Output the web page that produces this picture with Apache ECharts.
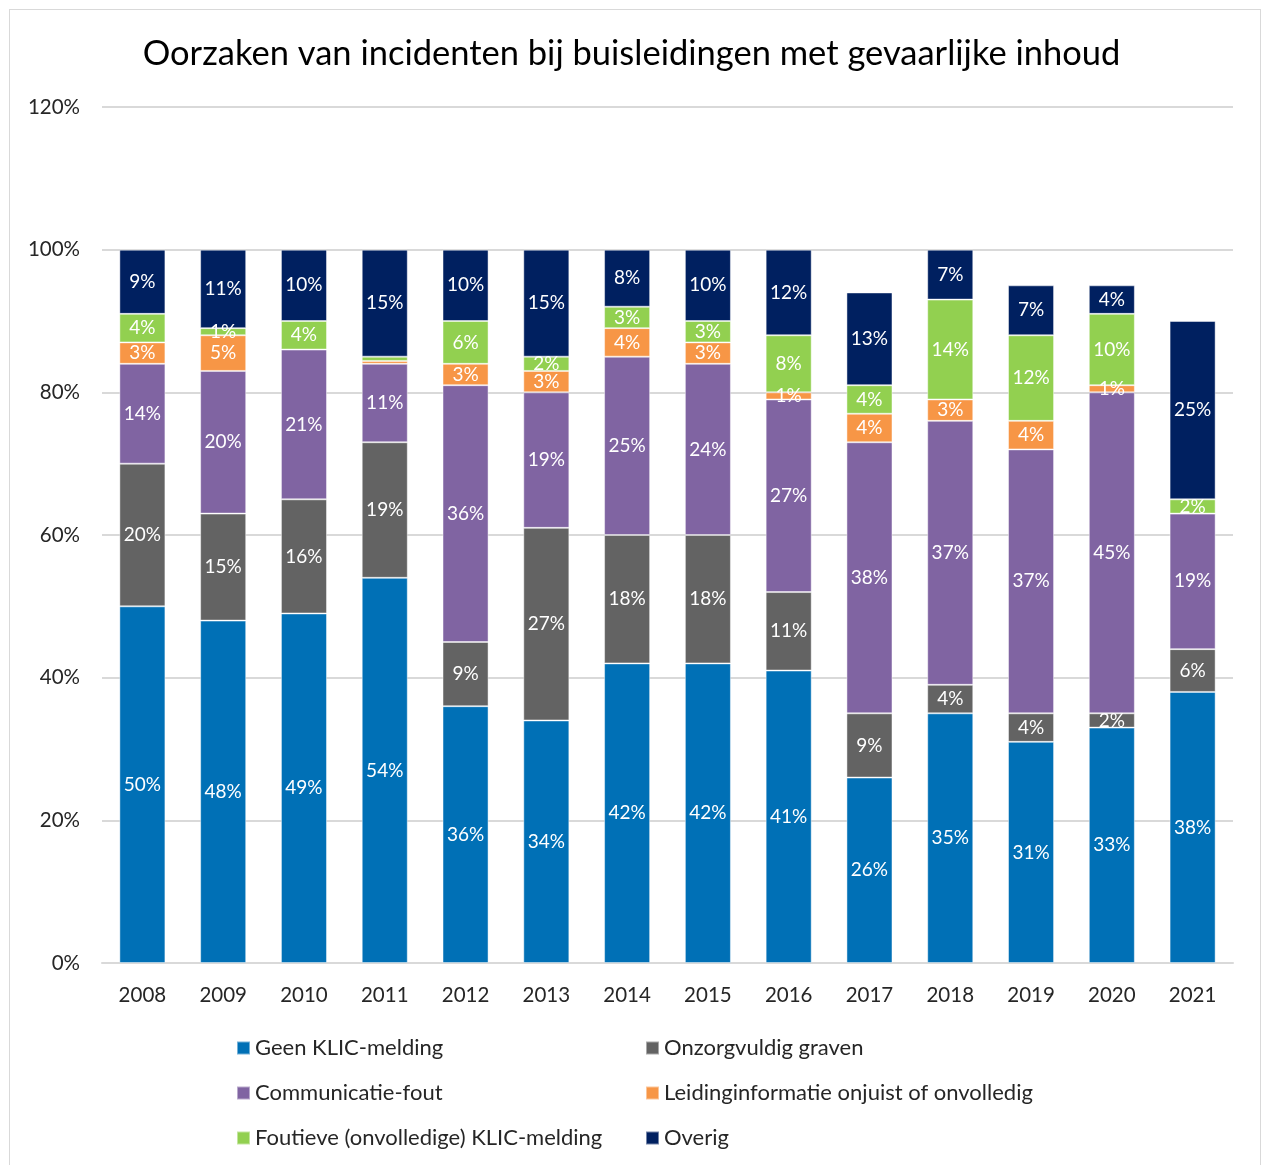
<!DOCTYPE html>
<html>
<head>
<meta charset="utf-8">
<script src="https://cdn.jsdelivr.net/npm/echarts@6/dist/echarts.min.js"></script>
<style>
  html, body { margin: 0; padding: 0; background: #fff; }
  #frame { position: absolute; left: 9px; top: 9px; width: 1252px; height: 1160px; border: 1px solid #d9d9d9; box-sizing: border-box; }
  #main { position: absolute; left: 0; top: 0; width: 1263px; height: 1165px; }
</style>
</head>
<body>
<div id="frame"></div>
<div id="main"></div>
<script>
// data (percentages)
var years = ['2008','2009','2010','2011','2012','2013','2014','2015','2016','2017','2018','2019','2020','2021'];
var geenKlic     = [50, 48, 49, 54, 36, 34, 42, 42, 41, 26, 35, 31, 33, 38];
var onzorgvuldig = [20, 15, 16, 19,  9, 27, 18, 18, 11,  9,  4,  4,  2,  6];
var communicatie = [14, 20, 21, 11, 36, 19, 25, 24, 27, 38, 37, 37, 45, 19];
var leidinginfo  = [ 3,  5,  0, 0.4, 3,  3,  4,  3,  1,  4,  3,  4,  1,  0];
var foutieveKlic = [ 4,  1,  4, 0.6, 6,  2,  3,  3,  8,  4, 14, 12, 10,  2];
var overig       = [ 9, 11, 10, 15, 10, 15,  8, 10, 12, 13,  7,  7,  4, 25];
var yTicks = ['0%','20%','40%','60%','80%','100%','120%'];

var fontName = 'Lato';

var chartDom = document.getElementById('main');
var myChart = echarts.init(chartDom, null, { renderer: 'canvas' });
var option;

function mkSeries(name, data, color) {
  return {
    name: name,
    type: 'bar',
    stack: 'total',
    barWidth: '57%',
    data: data,
    itemStyle: {
      color: color,
      borderColor: 'rgba(255,255,255,0.45)',
      borderWidth: 1
    },
    label: {
      show: true,
      position: 'inside',
      color: '#ffffff',
      fontFamily: fontName,
      fontSize: 19,
      formatter: function (p) {
        // hide empty / sub-1% segments
        if (p.value < 1) return '';
        return p.value + '%';
      }
    },
    emphasis: { disabled: true }
  };
}

var legendText = { fontFamily: fontName, fontSize: 22, color: '#262626', lineHeight: 24 };

option = {
  animation: false,
  title: {
    text: 'Oorzaken van incidenten bij buisleidingen met gevaarlijke inhoud',
    left: 'center',
    top: 31,
    textStyle: {
      fontFamily: fontName,
      fontWeight: 'normal',
      fontSize: 34.5,
      color: '#000000'
    }
  },
  legend: [
    {
      orient: 'vertical',
      left: 236,
      top: 1036,
      padding: 0,
      itemWidth: 13,
      itemHeight: 13,
      itemGap: 21,
      icon: 'rect',
      data: ['Geen KLIC-melding', 'Communicatie-fout', 'Foutieve (onvolledige) KLIC-melding'],
      textStyle: legendText
    },
    {
      orient: 'vertical',
      left: 645,
      top: 1036,
      padding: 0,
      itemWidth: 13,
      itemHeight: 13,
      itemGap: 21,
      icon: 'rect',
      data: ['Onzorgvuldig graven', 'Leidinginformatie onjuist of onvolledig', 'Overig'],
      textStyle: legendText
    }
  ],
  grid: {
    left: 102,
    right: 30,
    top: 107,
    bottom: 202,
    containLabel: false
  },
  xAxis: {
    type: 'category',
    data: years,
    axisTick: { show: false },
    axisLine: { lineStyle: { color: '#d9d9d9', width: 2 } },
    axisLabel: {
      fontFamily: fontName,
      fontSize: 20.5,
      color: '#262626',
      margin: 22
    }
  },
  yAxis: {
    type: 'value',
    min: 0,
    max: 120,
    interval: 20,
    axisLine: { show: false },
    axisTick: { show: false },
    splitLine: { lineStyle: { color: '#d9d9d9', width: 2 } },
    axisLabel: {
      fontFamily: fontName,
      fontSize: 20.5,
      color: '#262626',
      margin: 22,
      formatter: function (v) { return yTicks[v / 20]; }
    }
  },
  series: [
    mkSeries('Geen KLIC-melding', geenKlic, '#0070b6'),
    mkSeries('Onzorgvuldig graven', onzorgvuldig, '#636363'),
    mkSeries('Communicatie-fout', communicatie, '#8064a2'),
    mkSeries('Leidinginformatie onjuist of onvolledig', leidinginfo, '#f79646'),
    mkSeries('Foutieve (onvolledige) KLIC-melding', foutieveKlic, '#92d050'),
    mkSeries('Overig', overig, '#002060')
  ]
};
myChart.setOption(option);
</script>
</body>
</html>
